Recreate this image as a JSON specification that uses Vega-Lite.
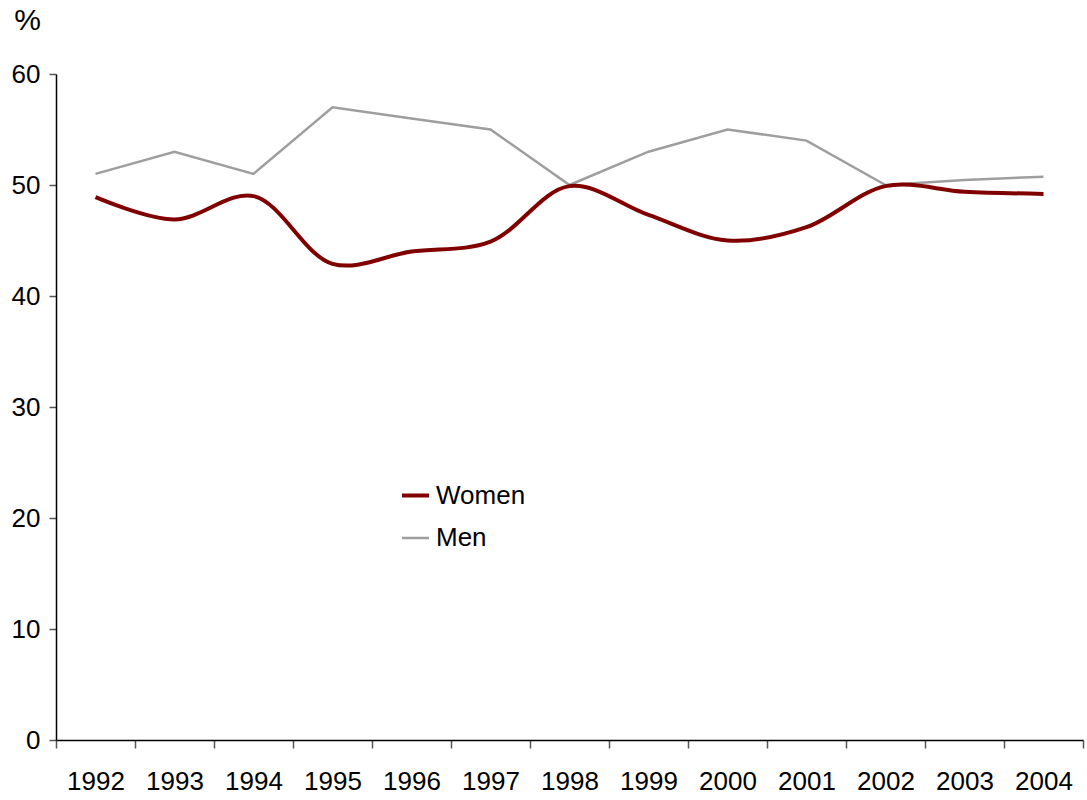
{
  "$schema": "https://vega.github.io/schema/vega-lite/v6.json",
  "autosize": "none",
  "width": 1027,
  "height": 666,
  "padding": {"left": 56, "top": 74, "right": 4, "bottom": 60},
  "background": "white",
  "config": {
    "view": {"stroke": null},
    "font": "Liberation Sans, Arial"
  },
  "data": {
    "values": [
      {"year": "1992", "series": "Women", "value": 48.9},
      {"year": "1993", "series": "Women", "value": 46.9},
      {"year": "1994", "series": "Women", "value": 49.0},
      {"year": "1995", "series": "Women", "value": 42.9},
      {"year": "1996", "series": "Women", "value": 44.0},
      {"year": "1997", "series": "Women", "value": 44.9},
      {"year": "1998", "series": "Women", "value": 49.9},
      {"year": "1999", "series": "Women", "value": 47.3},
      {"year": "2000", "series": "Women", "value": 45.0},
      {"year": "2001", "series": "Women", "value": 46.2},
      {"year": "2002", "series": "Women", "value": 49.9},
      {"year": "2003", "series": "Women", "value": 49.4},
      {"year": "2004", "series": "Women", "value": 49.2},
      {"year": "1992", "series": "Men", "value": 51.0},
      {"year": "1993", "series": "Men", "value": 53.0},
      {"year": "1994", "series": "Men", "value": 51.0},
      {"year": "1995", "series": "Men", "value": 57.0},
      {"year": "1996", "series": "Men", "value": 56.0},
      {"year": "1997", "series": "Men", "value": 55.0},
      {"year": "1998", "series": "Men", "value": 50.0},
      {"year": "1999", "series": "Men", "value": 53.0},
      {"year": "2000", "series": "Men", "value": 55.0},
      {"year": "2001", "series": "Men", "value": 54.0},
      {"year": "2002", "series": "Men", "value": 50.0},
      {"year": "2003", "series": "Men", "value": 50.45},
      {"year": "2004", "series": "Men", "value": 50.75}
    ]
  },
  "encoding": {
    "x": {
      "field": "year",
      "type": "ordinal",
      "scale": {"type": "band", "paddingInner": 0, "paddingOuter": 0},
      "axis": {
        "title": null,
        "labelAngle": 0,
        "labelFontSize": 26,
        "labelColor": "black",
        "labelPadding": 20,
        "tickBand": "extent",
        "tickSize": 8,
        "tickColor": "#555555",
        "tickWidth": 1.5,
        "domainColor": "black",
        "domainWidth": 1.5,
        "grid": false
      }
    },
    "y": {
      "field": "value",
      "type": "quantitative",
      "scale": {"domain": [0, 60], "nice": false, "zero": true},
      "axis": {
        "title": "%",
        "titleAngle": 0,
        "titleFontSize": 30,
        "titleFontWeight": "normal",
        "titleColor": "black",
        "titleAlign": "center",
        "titleBaseline": "middle",
        "titleX": -29,
        "titleY": -54,
        "values": [0, 10, 20, 30, 40, 50, 60],
        "labelFontSize": 26,
        "labelColor": "black",
        "labelPadding": 9,
        "tickSize": 7,
        "tickColor": "#555555",
        "tickWidth": 1.5,
        "domainColor": "black",
        "domainWidth": 1.5,
        "grid": false
      }
    },
    "color": {
      "field": "series",
      "type": "nominal",
      "scale": {"domain": ["Women", "Men"], "range": ["#800000", "#9e9e9e"]},
      "legend": {
        "title": null,
        "orient": "none",
        "legendX": 344,
        "legendY": 406,
        "symbolType": "stroke",
        "symbolSize": 729,
        "labelFontSize": 26,
        "labelColor": "black",
        "labelOffset": 5,
        "rowPadding": 14,
        "labelLimit": 300
      }
    },
    "strokeWidth": {
      "field": "series",
      "type": "nominal",
      "scale": {"domain": ["Women", "Men"], "range": [4, 2.5]},
      "legend": {
        "title": null,
        "orient": "none",
        "legendX": 344,
        "legendY": 406,
        "symbolType": "stroke",
        "symbolSize": 729,
        "labelFontSize": 26,
        "labelColor": "black",
        "labelOffset": 5,
        "rowPadding": 14,
        "labelLimit": 300
      }
    }
  },
  "layer": [
    {
      "transform": [{"filter": "datum.series === 'Men'"}],
      "mark": {"type": "line", "interpolate": "linear"}
    },
    {
      "transform": [{"filter": "datum.series === 'Women'"}],
      "mark": {"type": "line", "interpolate": "catmull-rom"}
    }
  ]
}
